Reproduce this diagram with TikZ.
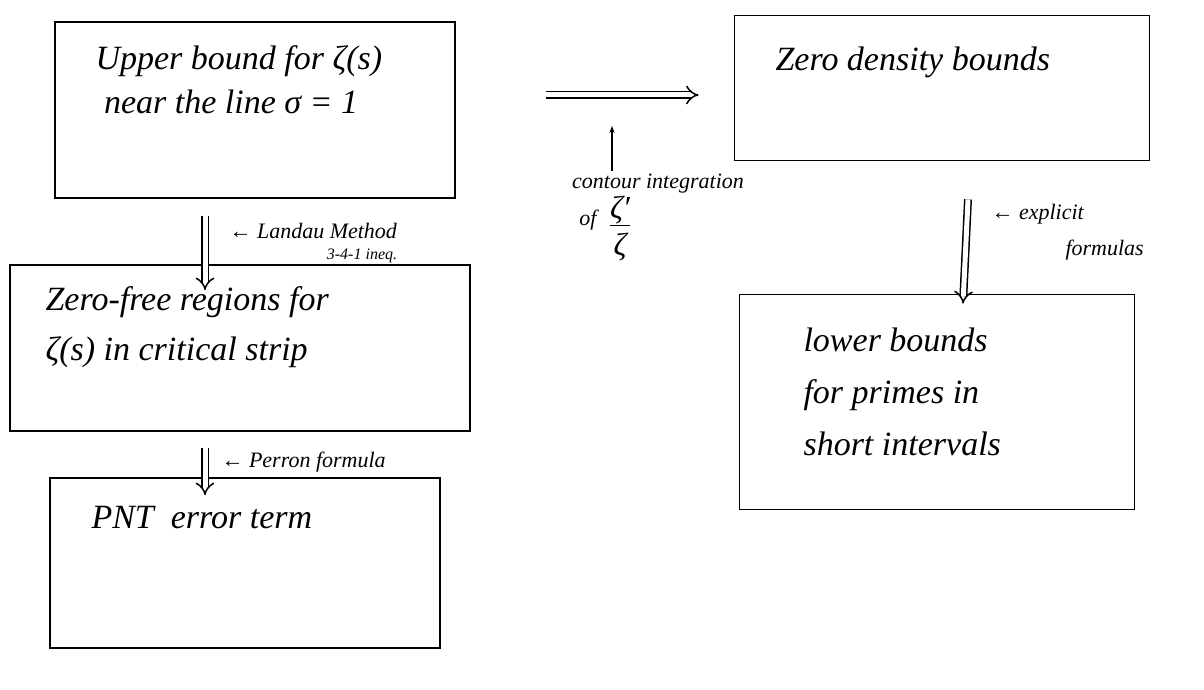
\documentclass[tikz,border=0pt]{standalone}
\usepackage{fontspec}
\setmainfont{Liberation Serif}
\usetikzlibrary{arrows.meta}
\begin{document}
\begin{tikzpicture}[x=1pt,y=-1pt,
  box/.style={draw, line width=1.8pt, minimum width=#1, inner sep=0pt},
  boxtext/.style={anchor=west, align=left, font=\fontsize{34}{#1}\selectfont\itshape},
  boxtext/.default=48,
  lbl/.style={font=\fontsize{22}{24}\selectfont\itshape, align=left},
  dbl/.style={double, double distance=5pt, line width=1.5pt, -{Implies[length=11pt, width=18pt]}},
  small/.style={-{Stealth[length=7pt]}, line width=1.1pt}]
\useasboundingbox (0,0) rectangle (1204,690);
% boxes
\node[box=400pt, minimum height=176pt] (b1) at (255,110) {};
\node[box=460pt, minimum height=166pt] (b2) at (240,348) {};
\node[box=390pt, minimum height=170pt] (b3) at (245,563) {};
\node[box=415pt, minimum height=145pt] (b4) at (942,88) {};
\node[box=395pt, minimum height=215pt] (b5) at (937,402) {};
% texts
\node[boxtext=44] (t1) at (92,80) {Upper bound for ζ(s)\\ \ near the line σ = 1};
\node[boxtext=50] (t2) at (42,327) {Zero-free regions for\\ ζ(s) in critical strip};
\node[boxtext] (t3) at (88,518) {PNT \ error term};
\node[boxtext] (t4) at (772,62) {Zero density bounds};
\node[boxtext=52] (t5) at (800,392) {lower bounds\\ for primes in\\ short intervals};
% arrows
\draw[dbl] ([xshift=-50pt,yshift=-17pt]b1.south) -- ([xshift=-35pt,yshift=-26pt]b2.north);
\draw[dbl] ([xshift=-35pt,yshift=-16pt]b2.south) -- ([xshift=-40pt,yshift=-18pt]b3.north);
\draw[dbl] ([xshift=26pt,yshift=-38pt]b4.south) -- ([xshift=26pt,yshift=-10pt]b5.north);
\draw[dbl] ([shift={(90pt,15pt)}]b1.east) -- ([shift={(-35pt,-7pt)}]b4.west);
% labels
\node[lbl, anchor=west] (l1) at (226,231) {← Landau Method};
\node[font=\fontsize{16}{18}\selectfont\itshape, inner sep=1pt] (l1b) at (362,256) {3-4-1 ineq.};
\node[lbl, anchor=west] (l2) at (218,462) {← Perron formula};
\node[lbl, anchor=west] (l3) at (988,214) {← explicit};
\node[lbl, anchor=west] (l3b) at (1062,250) {formulas};
\node[lbl] (l4) at (658,184) {contour integration};
\node[lbl, anchor=east] (l4b) at (600,220) {of};
\node[font=\fontsize{32}{34}\selectfont\itshape, inner sep=0pt] (l4c) at (620,230) {\begin{tabular}{@{}c@{}}ζ′\\[-3pt]\hline\rule{0pt}{30pt}ζ\end{tabular}};
\coordinate (c4) at (612,126);
\draw[small] (l4.north -| c4) -- (c4);
\end{tikzpicture}
\end{document}
